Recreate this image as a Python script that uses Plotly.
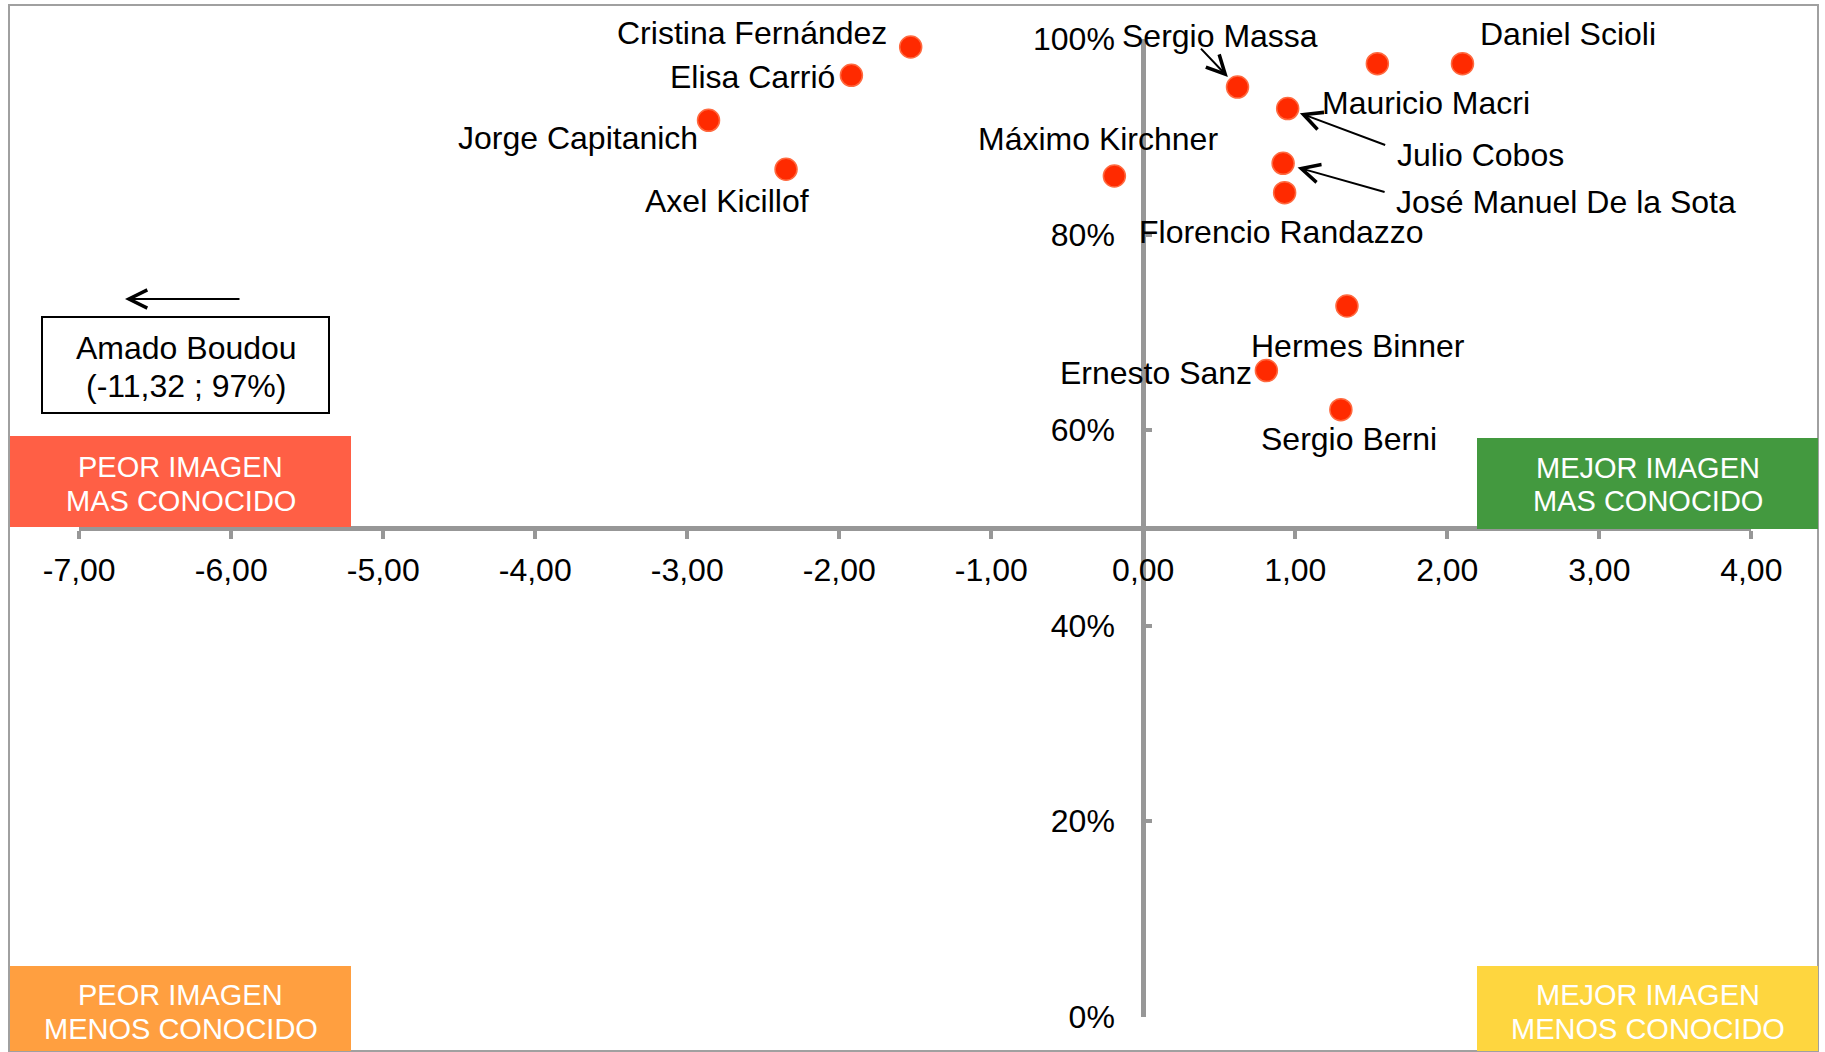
import plotly.graph_objects as go

# ---------------- data ----------------
nombres = [
    "Cristina Fernández", "Elisa Carrió", "Jorge Capitanich", "Axel Kicillof",
    "Máximo Kirchner", "Sergio Massa", "Daniel Scioli", "Mauricio Macri",
    "Julio Cobos", "José Manuel De la Sota", "Florencio Randazzo",
    "Hermes Binner", "Ernesto Sanz", "Sergio Berni",
]
imagen = [-1.53, -1.92, -2.86, -2.35, -0.19, 0.62, 2.10, 1.54,
          0.95, 0.92, 0.93, 1.34, 0.81, 1.30]
conocimiento = [99.2, 96.3, 91.7, 86.7, 86.0, 95.1, 97.5, 97.5,
                92.9, 87.3, 84.3, 72.7, 66.1, 62.1]

boudou_nombre = "Amado Boudou"
boudou_imagen = -11.32
boudou_conocimiento = 97

x_tickvals = [-7, -6, -5, -4, -3, -2, -1, 0, 1, 2, 3, 4]
x_ticktext = ["-7,00", "-6,00", "-5,00", "-4,00", "-3,00", "-2,00",
              "-1,00", "0,00", "1,00", "2,00", "3,00", "4,00"]
y_tickvals = [0, 20, 40, 60, 80, 100]
y_ticktext = ["0%", "20%", "40%", "60%", "80%", "100%"]

cuadrantes = [
    ["PEOR IMAGEN", "MAS CONOCIDO"],
    ["MEJOR IMAGEN", "MAS CONOCIDO"],
    ["PEOR IMAGEN", "MENOS CONOCIDO"],
    ["MEJOR IMAGEN", "MENOS CONOCIDO"],
]

# ---------------- layout / style ----------------
W, H = 1825, 1052
FONT = "Arial, 'Liberation Sans', sans-serif"
AXIS_COLOR = "#979797"
DOT = "#FF2A00"


def px(x):
    return x / W


def py(y):
    return 1 - y / H


xdom = [px(79.2), px(1751.3)]
ydom = [py(1016.7), py(39.2)]
xr = [-7, 4]
yr = [0, 100]
x_pos = xdom[0] + (0 - xr[0]) / (xr[1] - xr[0]) * (xdom[1] - xdom[0])
y_pos = ydom[0] + (50 - yr[0]) / (yr[1] - yr[0]) * (ydom[1] - ydom[0])

# label placement: (xanchor, dx, dy) in screen pixels from the dot centre
label_pos = [
    ("right", -22, -14), ("right", -14, 2), ("right", -9, 18), ("center", -59, 32),
    ("center", -16, -37), ("center", -18, -51), ("center", 106, -30), ("center", 49, 39),
    ("left", 107, 46), ("left", 111, 39), ("center", -3, 39),
    ("center", 11, 40), ("right", -12, 2), ("center", 8, 29),
]
# arrows: name -> (ax, ay, standoff)
arrows = {
    "Sergio Massa": (-38, -40, 14),
    "Julio Cobos": (99, 37, 13),
    "José Manuel De la Sota": (103, 29, 15),
}

fig = go.Figure()
fig.add_trace(go.Scatter(
    x=imagen, y=conocimiento, mode="markers",
    marker=dict(size=22, color=DOT, line=dict(color="#FF6A40", width=1.5)),
    cliponaxis=False, showlegend=False, text=nombres, hoverinfo="text",
))

annotations = []
for n, xv, yv, (anc, dx, dy) in zip(nombres, imagen, conocimiento, label_pos):
    annotations.append(dict(
        x=xv, y=yv, xref="x", yref="y", text=n, showarrow=False,
        xanchor=anc, yanchor="middle", xshift=dx, yshift=-dy,
        font=dict(family=FONT, size=32, color="black"),
    ))
    if n in arrows:
        ax, ay, so = arrows[n]
        annotations.append(dict(
            x=xv, y=yv, xref="x", yref="y", text="", showarrow=True,
            ax=ax, ay=ay, arrowhead=5, arrowsize=1.8, arrowwidth=2,
            arrowcolor="black", standoff=so,
        ))

# Amado Boudou (out of range) note
annotations.append(dict(
    x=px(125), y=py(299), xref="paper", yref="paper", text="", showarrow=True,
    ax=116, ay=0, arrowhead=5, arrowsize=1.8, arrowwidth=2, arrowcolor="black",
))
b_lines = [boudou_nombre,
           "(" + f"{boudou_imagen:.2f}".replace(".", ",") + " ; " + f"{boudou_conocimiento}%" + ")"]
for line, yy in zip(b_lines, [348, 386]):
    annotations.append(dict(
        x=px(186), y=py(yy), xref="paper", yref="paper", text=line,
        showarrow=False, xanchor="center", yanchor="middle",
        font=dict(family=FONT, size=32, color="black"),
    ))

shapes = [
    dict(type="rect", xref="paper", yref="paper", x0=px(9), x1=px(1818),
         y0=py(1051), y1=py(5), line=dict(color="#A0A0A0", width=2), layer="below"),
    dict(type="rect", xref="paper", yref="paper", x0=px(42), x1=px(329),
         y0=py(413), y1=py(317), line=dict(color="black", width=2),
         fillcolor="white", layer="above"),
]

box_geo = [  # (x0, y0, x1, y1, colour, text centre x, line y's)
    (10, 436, 351, 527, "#FF5F45", 180.7, [467, 501]),
    (1477, 438, 1818, 529, "#43993F", 1648, [468, 501]),
    (10, 966, 351, 1051, "#FF9F40", 180.5, [995, 1029]),
    (1477, 966, 1818, 1051, "#FED63F", 1648, [995, 1029]),
]
for (x0, y0, x1, y1, col, tx, tys), lines in zip(box_geo, cuadrantes):
    shapes.append(dict(type="rect", xref="paper", yref="paper",
                       x0=px(x0), x1=px(x1), y0=py(y1), y1=py(y0),
                       fillcolor=col, line=dict(width=0), layer="above"))
    for line, ty in zip(lines, tys):
        annotations.append(dict(
            x=px(tx), y=py(ty), xref="paper", yref="paper", text=line,
            showarrow=False, xanchor="center", yanchor="middle",
            font=dict(family=FONT, size=29, color="white"),
        ))

fig.update_layout(
    width=W, height=H,
    margin=dict(l=0, r=0, t=0, b=0, autoexpand=False),
    paper_bgcolor="white", plot_bgcolor="white",
    font=dict(family=FONT, size=32, color="black"),
    xaxis=dict(
        range=xr, domain=xdom, anchor="free", position=y_pos,
        showline=True, linecolor=AXIS_COLOR, linewidth=5,
        ticks="outside", ticklen=8, tickwidth=4, tickcolor=AXIS_COLOR,
        tickmode="array", tickvals=x_tickvals, ticktext=x_ticktext,
        tickfont=dict(family=FONT, size=32, color="black"),
        ticklabelstandoff=4,
        showgrid=False, zeroline=False,
    ),
    yaxis=dict(
        range=yr, domain=ydom, anchor="free", position=x_pos, side="left",
        showline=True, linecolor=AXIS_COLOR, linewidth=5,
        ticks="inside", ticklen=6, tickwidth=4, tickcolor=AXIS_COLOR,
        tickmode="array", tickvals=y_tickvals, ticktext=y_ticktext,
        tickfont=dict(family=FONT, size=32, color="black"),
        ticklabelstandoff=20,
        showgrid=False, zeroline=False,
    ),
    shapes=shapes,
    annotations=annotations,
)

fig.write_html(
    "out.html",
    config={"displayModeBar": False},
    post_script="document.body.style.margin='0';document.body.style.overflow='hidden';",
)
